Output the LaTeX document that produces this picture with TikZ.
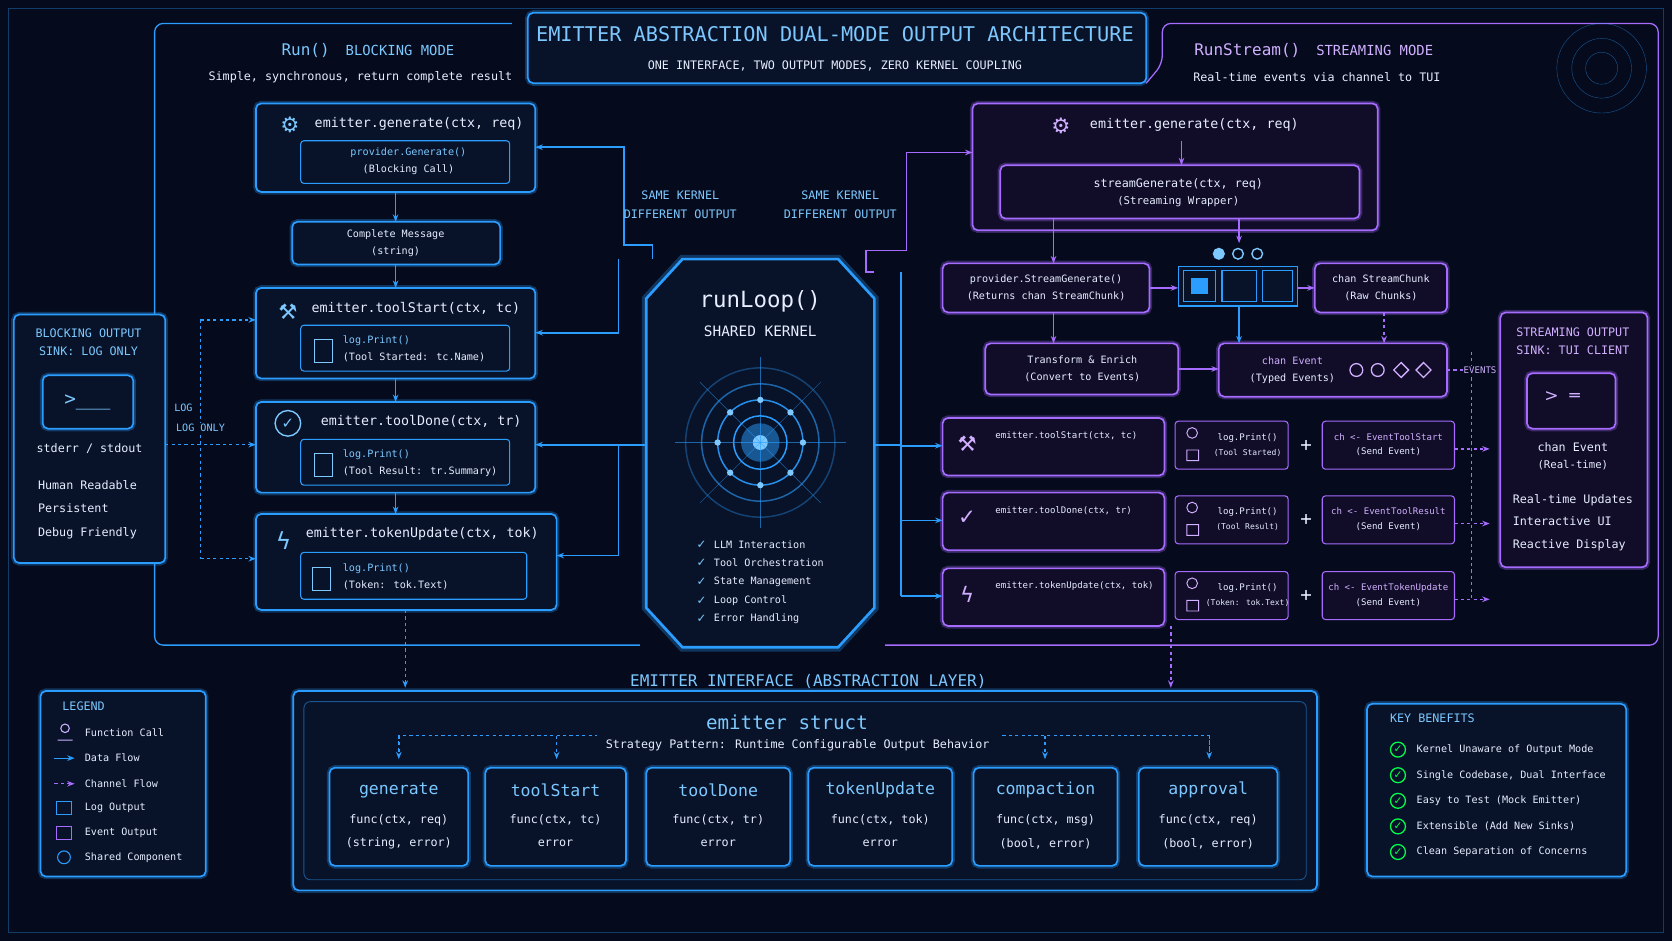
\documentclass[tikz,border=0pt]{standalone}
\usepackage{fontspec}
\setmainfont{DejaVu Sans Mono}
\newfontfamily\symf{DejaVu Sans}
\usetikzlibrary{arrows.meta,shapes.geometric}
\definecolor{bg}{HTML}{050A1C}
\definecolor{cb}{HTML}{2A9DFF}
\definecolor{cbl}{HTML}{7CC8FF}
\definecolor{pp}{HTML}{A66BFF}
\definecolor{ppl}{HTML}{D0B0FF}
\definecolor{tx}{HTML}{E6EEFF}
\definecolor{pan}{HTML}{081228}
\definecolor{ppan}{HTML}{110C28}
\tikzset{
 x=1pt,y=-1pt,
 every node/.style={text=tx,font=\fontsize{11}{13}\selectfont,align=center},
 bbox/.style={draw=cb,line width=1.6pt,rounded corners=5pt,fill=pan,preaction={draw=cb,opacity=.3,line width=5pt}},
 ibox/.style={draw=cb,line width=1pt,rounded corners=3pt,fill=pan},
 pbox/.style={draw=pp,line width=1.6pt,rounded corners=5pt,fill=ppan,preaction={draw=pp,opacity=.3,line width=5pt}},
 pibox/.style={draw=pp,line width=1pt,rounded corners=3pt,fill=ppan},
 outl/.style={draw=cb,line width=1.2pt,rounded corners=8pt},
 poutl/.style={draw=pp,line width=1.2pt,rounded corners=8pt},
 arr/.style={draw=cb,line width=1.6pt,-{Stealth[length=7pt]}},
 parr/.style={draw=pp,line width=1.6pt,-{Stealth[length=7pt]}},
 darr/.style={draw=cb,line width=1.3pt,dashed,-{Stealth[length=7pt]}},
 pdarr/.style={draw=pp,line width=1.3pt,dashed,-{Stealth[length=7pt]}},
 hd/.style={text=cbl,font=\fontsize{15}{17}\selectfont},
 phd/.style={text=ppl,font=\fontsize{15}{17}\selectfont},
 sm/.style={font=\fontsize{9.5}{16}\selectfont},
 tiny/.style={font=\fontsize{8.5}{14}\selectfont},
}
\begin{document}
\begin{tikzpicture}
\fill[bg] (0,0) rectangle (1568,882);
\useasboundingbox (0,0) rectangle (1568,882);
\draw[cb,opacity=.35,line width=.8pt] (8,8) rectangle (1560,874);
% title
\draw[bbox] (495,12) rectangle (1075,78);
\node[hd,font=\fontsize{19}{21}\selectfont] (title) at (783,32) {EMITTER ABSTRACTION DUAL-MODE OUTPUT ARCHITECTURE};
\node (sub) at (783,62) {ONE INTERFACE, TWO OUTPUT MODES, ZERO KERNEL COUPLING};
% panels
\draw[outl] (480,22) -- (145,22) -- (145,605) -- (600,605);
\node[hd] (lh) at (345,47) {Run()\quad{\fontsize{13}{15}\selectfont BLOCKING MODE}};
\node (ls) at (338,72) {Simple, synchronous, return complete result};
\draw[poutl] (1075,78) -- (1090,60) -- (1090,22) -- (1555,22) -- (1555,605) -- (830,605);
\node[phd] (rh) at (1232,47) {RunStream()\quad{\fontsize{13}{15}\selectfont STREAMING MODE}};
\node (rs) at (1235,72) {Real-time events via channel to TUI};
% left boxes
\draw[bbox] (240,97) rectangle (502,180);
\coordinate (genE) at (502,138);
\node[font=\fontsize{20}{20}\selectfont\symf,text=cbl] at (272,117) {⚙};
\node[font=\fontsize{12.5}{14}\selectfont] at (393,116) {emitter.generate(ctx, req)};
\draw[ibox] (282,132) rectangle (478,172);
\node[sm] at (383,151) {{\color{cbl}provider.Generate()}\\(Blocking Call)};
\draw[bbox] (274,208) rectangle (469,248);
\node[sm] (cm) at (371,228) {Complete Message\\(string)};
\draw[bbox] (240,270) rectangle (502,355);
\node[font=\fontsize{12.5}{14}\selectfont] at (390,289) {emitter.toolStart(ctx, tc)};
\node[font=\fontsize{20}{20}\selectfont\symf,text=cbl] at (270,292) {⚒};
\draw[ibox] (282,305) rectangle (478,348);
\node[sm,align=left,anchor=west] at (318,327) {{\color{cbl}log.Print()}\\(Tool Started: tc.Name)};
\draw[cbl,line width=1pt] (295,318) rectangle (312,340);
\draw[bbox] (240,377) rectangle (502,462);
\node[font=\fontsize{12.5}{14}\selectfont] at (395,395) {emitter.toolDone(ctx, tr)};
\draw[cbl,line width=1.3pt] (270,397) circle (12); \node[font=\fontsize{14}{14}\selectfont\symf,text=cbl] at (270,397) {✓};
\draw[ibox] (282,412) rectangle (478,455);
\node[sm,align=left,anchor=west] at (318,434) {{\color{cbl}log.Print()}\\(Tool Result: tr.Summary)};
\draw[cbl,line width=1pt] (295,425) rectangle (312,447);
\draw[bbox] (240,482) rectangle (522,572);
\node[font=\fontsize{12.5}{14}\selectfont] at (396,501) {emitter.tokenUpdate(ctx, tok)};
\node[font=\fontsize{22}{22}\selectfont\symf,text=cbl] at (266,507) {ϟ};
\draw[ibox] (282,518) rectangle (494,562);
\node[sm,align=left,anchor=west] at (318,541) {{\color{cbl}log.Print()}\\(Token: tok.Text)};
\draw[cbl,line width=1pt] (293,532) rectangle (310,554);
\coordinate (ts) at (502,312); \coordinate (td) at (502,417); \coordinate (tu) at (522,521);
% vertical flow left
\draw[arr] (371,180) -- (371,208);
\draw[arr] (371,248) -- (371,270);
\draw[arr] (371,355) -- (371,377);
\draw[arr] (371,462) -- (371,482);
% runLoop
\draw[cb,line width=2.5pt,fill=pan,preaction={draw=cb,opacity=.3,line width=8pt}] (640,243) -- (786,243) -- (820,280) -- (820,570) -- (786,607) -- (640,607) -- (606,570) -- (606,280) -- cycle;
\node[font=\fontsize{21}{23}\selectfont] (rl) at (713,283) {runLoop()};
\node[font=\fontsize{13.5}{15}\selectfont] at (713,311) {SHARED KERNEL};
\foreach \r/\o in {70/.35,55/.6,40/.9,25/1}{\draw[cb,line width=1.4pt,opacity=\o] (713,415) circle (\r);}
\fill[cb,opacity=.5] (713,415) circle (18);
\fill[cbl] (713,415) circle (7);
\foreach \a in {0,45,...,315}{\draw[cb,opacity=.6] (713,415) -- ++(\a:80); \fill[cbl] (713,415) ++(\a:40) circle (3);}
\foreach \t [count=\i] in {LLM Interaction,Tool Orchestration,State Management,Loop Control,Error Handling}{
 \node[sm,anchor=west] at (666,493+17.5*\i) {\t};
 \node[font=\fontsize{11}{11}\selectfont\symf,text=cbl] at (658,493+17.5*\i) {✓};}
% left kernel arrows
\draw[arr] (612,243) -- (612,230) -- (585,230) -- (585,138) -- (genE);
\draw[arr] (580,243) -- (580,312) -- (ts);
\draw[arr] (606,417) -- (td);
\draw[arr] (580,417) -- (580,521) -- (tu);
\node[text=cbl] at (638,192) {SAME KERNEL\\[4pt]DIFFERENT OUTPUT};
\node[text=cbl] at (788,192) {SAME KERNEL\\[4pt]DIFFERENT OUTPUT};
% left sink
\draw[bbox] (13,295) rectangle (155,528);
\node[text=cbl] at (83,321) {BLOCKING OUTPUT\\[4pt]SINK: LOG ONLY};
\draw[bbox] (40,352) rectangle (125,402);
\node[font=\fontsize{18}{18}\selectfont,text=cbl] (term) at (82,377) {>\_\_\_};
\node at (84,421) {stderr / stdout};
\node[align=left,font=\fontsize{11}{22}\selectfont] at (82,478) {Human Readable\\Persistent\\Debug Friendly};
\draw[darr] (188,300) -- (240,300);
\draw[cb,line width=1.3pt,dashed] (188,300) -- (188,524);
\draw[darr] (155,417) -- (240,417);
\draw[darr] (188,524) -- (240,524);
\node[sm,text=cbl,fill=bg,inner sep=1pt] at (172,382) {LOG};
\node[sm,text=cbl,fill=bg,inner sep=1pt] at (188,401) {LOG ONLY};
% right top
\draw[pbox] (912,97) rectangle (1292,216);
\node[font=\fontsize{20}{20}\selectfont\symf,text=ppl] at (995,118) {⚙};
\node[font=\fontsize{12.5}{14}\selectfont] at (1120,117) {emitter.generate(ctx, req)};
\draw[pbox] (938,155) rectangle (1275,205);
\node[font=\fontsize{11}{16}\selectfont] (sg) at (1105,181) {streamGenerate(ctx, req)\\{\fontsize{10}{12}\selectfont(Streaming Wrapper)}};
\draw[parr] (1108,132) -- (1108,155);
\draw[parr] (820,255) -- (812,255) -- (812,235) -- (850,235) -- (850,143) -- (912,143);
\draw[pbox] (884,247) rectangle (1078,293);
\node[sm] (psg) at (981,270) {provider.StreamGenerate()\\(Returns chan StreamChunk)};
\draw[parr] (988,205) -- (988,247);
\draw[parr] (1162,205) -- (1162,228);
\foreach \x/\f in {1143/1,1161/0,1179/0}{\draw[cbl,line width=1.3pt,fill=cbl,fill opacity=\f] (\x,238) circle (5);}
\draw[draw=cb,line width=1.4pt,fill=pan] (1105,250) rectangle (1217,287);
\draw[cb,line width=1.2pt] (1110,254) rectangle (1140,283) (1146,254) rectangle (1178,283) (1184,254) rectangle (1212,283);
\fill[cb] (1117,261) rectangle (1133,276);
\draw[parr] (1078,270) -- (1105,270);
\draw[parr] (1217,270) -- (1233,270);
\draw[pbox] (1233,247) rectangle (1357,293);
\node[sm] (csc) at (1295,270) {chan StreamChunk\\(Raw Chunks)};
\draw[pbox] (924,322) rectangle (1105,370);
\node[sm] (tr) at (1015,346) {Transform \& Enrich\\(Convert to Events)};
\draw[parr] (988,293) -- (988,322);
\draw[pbox] (1143,322) rectangle (1357,372);
\node[sm] (ce) at (1212,347) {{\color{ppl}chan Event}\\(Typed Events)};
\draw[parr] (1105,346) -- (1143,346);
\draw[arr] (1162,287) -- (1162,322);
\draw[pdarr] (1298,293) -- (1298,322);
\draw[ppl,line width=1.2pt] (1272,347) circle (6) (1292,347) circle (6);
\draw[ppl,line width=1.2pt] (1314,340) -- (1321,347) -- (1314,354) -- (1307,347) -- cycle (1335,340) -- (1342,347) -- (1335,354) -- (1328,347) -- cycle;
% right rows
\draw[cb,line width=1.6pt] (820,417) -- (845,417);
\foreach \y/\f/\l/\c/\ic in {392/{emitter.toolStart(ctx, tc)}/(Tool Started)/EventToolStart/⚒,462/{emitter.toolDone(ctx, tr)}/(Tool Result)/EventToolResult/✓,533/{emitter.tokenUpdate(ctx, tok)}/(Token: tok.Text)/EventTokenUpdate/ϟ}{
 \draw[pbox] (884,\y) rectangle (1092,\y+54);
 \node[tiny,anchor=west] at (930,\y+17) {\f};
 \node[font=\fontsize{20}{20}\selectfont\symf,text=ppl] at (907,\y+24) {\ic};
 \draw[pibox] (1102,\y+3) rectangle (1208,\y+48);
 \node[tiny] at (1170,\y+25) {log.Print()\\{\fontsize{7.5}{9}\selectfont\l}};
 \draw[ppl,line width=.9pt] (1118,\y+14) circle (5) (1113,\y+30) rectangle (1124,\y+40);
 \node[font=\fontsize{18}{18}\selectfont] at (1225,\y+26) {+};
 \draw[pibox] (1240,\y+3) rectangle (1364,\y+48);
 \node[tiny] at (1302,\y+25) {{\color{ppl}ch <- \c}\\(Send Event)};
 \draw[pdarr] (1364,\y+29) -- (1397,\y+29);
 \draw[arr] (845,\y+26) -- (884,\y+26);
}
\draw[cb,line width=1.6pt] (845,255) -- (845,559);
\draw[pp,line width=1.3pt,dashed] (1380,330) -- (1380,562);
\draw[pp,line width=1.3pt,dashed] (1357,347) -- (1380,347);
\node[tiny,text=ppl,fill=bg,inner sep=1pt] at (1388,347) {EVENTS};
% right sink
\draw[pbox] (1407,293) rectangle (1545,532);
\node[text=ppl] at (1475,320) {STREAMING OUTPUT\\[4pt]SINK: TUI CLIENT};
\draw[pbox] (1432,350) rectangle (1515,402);
\node[font=\fontsize{16}{16}\selectfont\symf,text=ppl] (term2) at (1465,372) {>\ \ ═};
\node[font=\fontsize{11}{16}\selectfont] at (1475,428) {chan Event\\{\fontsize{10}{12}\selectfont(Real-time)}};
\node[align=left,font=\fontsize{11}{21}\selectfont] at (1475,490) {Real-time Updates\\Interactive UI\\Reactive Display};
% down arrows
\draw[darr] (380,572) -- (380,645);
\draw[pdarr] (1098,587) -- (1098,645);
% bottom
\node[hd] (ei) at (758,639) {EMITTER INTERFACE (ABSTRACTION LAYER)};
\draw[bbox] (275,648) rectangle (1235,835);
\draw[cb,opacity=.5,line width=.8pt,rounded corners=6pt] (285,658) rectangle (1225,825);
\node[hd,font=\fontsize{18}{20}\selectfont] (es) at (738,677) {emitter struct};
\node at (748,699) {Strategy Pattern: Runtime Configurable Output Behavior};
\draw[cb,dashed,line width=1pt] (374,710) -- (374,690) -- (560,690);
\draw[cb,dashed,line width=1pt] (940,690) -- (1134,690) -- (1134,710);
\foreach \x in {374,522,980,1134}{\draw[darr] (\x,690) -- (\x,712);}
\foreach \a/\b/\n/\s/\r in {309/439/generate/{func(ctx, req)}/{(string, error)},455/587/toolStart/{func(ctx, tc)}/error,606/741/toolDone/{func(ctx, tr)}/error,758/893/tokenUpdate/{func(ctx, tok)}/error,913/1048/compaction/{func(ctx, msg)}/{(bool, error)},1068/1198/approval/{func(ctx, req)}/{(bool, error)}}{
 \draw[bbox] (\a,720) rectangle (\b,812);
 \node[hd,font=\fontsize{15.5}{17}\selectfont] at ({(\a+\b)/2},741) {\n};
 \node at ({(\a+\b)/2},769) {\s};
 \node at ({(\a+\b)/2},791) {\r};
}
% legend
\draw[bbox] (38,648) rectangle (193,822);
\node[text=cbl,anchor=west] at (55,662) {LEGEND};
\foreach \t/\y in {Function Call/687,Data Flow/711,Channel Flow/735,Log Output/758,Event Output/781,Shared Component/804}{\node[sm,anchor=west] at (76,\y) {\t};}
\draw[ppl,line width=1pt] (61,683) circle (4) (54,694) -- (68,694);
\draw[arr,line width=1.2pt] (51,711) -- (70,711);
\draw[parr,line width=1.2pt,dashed] (51,735) -- (70,735);
\draw[cb,line width=1pt] (53,752) rectangle (67,764);
\draw[pp,line width=1pt] (53,775) rectangle (67,787);
\draw[cb,line width=1pt] (60,804) circle (6);
% key benefits
\draw[bbox] (1282,660) rectangle (1525,822);
\node[text=cbl,anchor=west] at (1300,674) {KEY BENEFITS};
\foreach \t/\y in {Kernel Unaware of Output Mode/703,{Single Codebase, Dual Interface}/727,Easy to Test (Mock Emitter)/751,Extensible (Add New Sinks)/775,Clean Separation of Concerns/799}{
 \node[sm,anchor=west] at (1325,\y) {\t};
 \draw[green!70!cyan,line width=1.2pt] (1311,\y) circle (7);
 \node[font=\fontsize{10}{10}\selectfont\symf,text=green!70!cyan] at (1311,\y) {✓};}
% decorations
\foreach \r in {15,28,42}{\draw[cb,opacity=.5] (1502,64) circle (\r);}
\end{tikzpicture}
\end{document}
